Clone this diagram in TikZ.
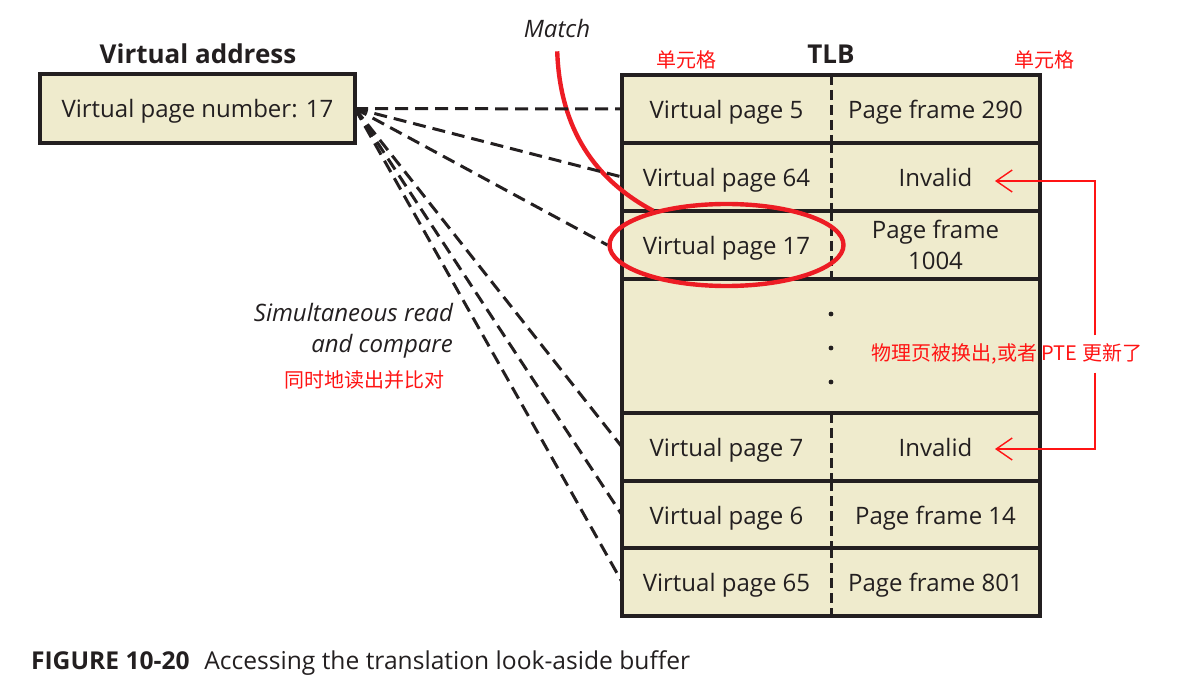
\documentclass[tikz,border=0pt]{standalone}
\usepackage{fontspec}
\setmainfont{Open Sans}
\newfontfamily\cjk{Noto Sans CJK SC}
\definecolor{cellbg}{RGB}{239,235,205}
\definecolor{edge}{RGB}{35,31,32}
\definecolor{hit}{RGB}{237,28,36}
\definecolor{note}{RGB}{255,20,20}
\usetikzlibrary{
	arrows.meta,
	positioning,
	shapes.geometric
}
\tikzset{
  % node
	cstcell/.style    ={fill=cellbg,minimum width=104.5pt,minimum height=34pt,inner sep=0pt,outer sep=0pt,align=center,text depth=0pt},
	csttitle/.style   ={font=\bfseries\fontsize{13}{15}\selectfont},
	cstemph/.style    ={font=\itshape\fontsize{12}{15.5}\selectfont,align=right},
	cstcjk/.style     ={text=note,font=\cjk\fontsize{10}{12}\selectfont},
	cstring/.style    ={ellipse,draw=hit,line width=2.2pt,minimum width=117pt,minimum height=41pt},
  % line
	cstframe/.style   ={draw=edge,line width=1.6pt},
	cstlink/.style    ={draw=edge,line width=1.5pt,dash pattern=on 6.5pt off 3.5pt}, % read and compare
	cstsplit/.style   ={draw=edge,line width=1.5pt,dash pattern=on 5pt off 2.5pt},   % column divider
	csthit/.style     ={draw=hit,line width=2.2pt},
	cstwarn/.style    ={draw=note,line width=0.7pt},
	cstwra/.style     ={-{Straight Barb[length=8pt,width=11pt]}}
}

\begin{document}
\begin{tikzpicture}[x=0.5pt,y=-0.5pt,text=edge,font=\fontsize{12}{15.5}\selectfont]
	\useasboundingbox (0,0) rectangle (1200,700);
  % virtual address
	\node[cstcell,cstframe,minimum width=157.5pt,minimum height=34.5pt] (va) at (197.5,108.5) {Virtual page number: 17};
	\node[csttitle] (vat) at (198,54) {Virtual address};
  % TLB
	\node[cstcell,minimum width=209pt,minimum height=67pt] (gap) at (831,346) {};
	\draw[cstframe] (gap.north west) rectangle (gap.south east);
	\foreach \d in {314,348,382} \fill[edge] (831,\d) circle (1.2pt);
	\foreach \i/\y/\vp/\pf in {1/109/5/Page frame 290,2/177/64/Invalid,3/245/17/{Page frame\\1004},4/447/7/Invalid,5/515/6/Page frame 14,6/582/65/Page frame 801}{
		\node[cstcell] (l\i) at (726.5,\y) {Virtual page \vp};
		\node[cstcell,right=0pt of l\i] (p\i) {\pf};
		\draw[cstframe] (l\i.north west) rectangle (p\i.south east);
		\draw[cstsplit] (l\i.north east) -- (l\i.south east);
	}
	\node[csttitle] (tlb) at (831,54) {TLB};
	\node[cstcjk] (cl) at (686,60) {单元格};
	\node[cstcjk] (cr) at (1044,60) {单元格};
  % match
	\node[cstring] (ring) at (l3) {};
	\node[cstemph] (match) at (557,29) {Match};
	\draw[csthit,shorten <=3pt] (match.south) to[out=-88,in=152] (ring.155);
  % read and compare
	\foreach \t in {l1,l2,l4,l5,l6} \draw[cstlink] (va.east) -- (\t.west);
	\draw[cstlink] (va.east) -- (ring.west);
	\node[cstemph,anchor=east] (rc) at (460,331) {Simultaneous read\\and compare};
	\node[cstcjk,anchor=east] (rcc) at (452,380) {同时地读出并比对};
  % update
	\node[cstcjk,inner sep=4pt] (upd) at (1007,354) {物理页被换出,或者 PTE 更新了};
	\coordinate (k2) at (1095,181);
	\coordinate (k4) at (1095,449);
	\coordinate (a2) at (995,181);
	\coordinate (a4) at (995,449);
	\draw[cstwarn,cstwra] (upd.north -| k2) -- (k2) -- (a2);
	\draw[cstwarn,cstwra] (upd.south -| k4) -- (k4) -- (a4);
  % caption
	\node[anchor=west,font=\fontsize{12.3}{14}\selectfont] (cap) at (24,663) {\textbf{FIGURE 10-20}\hspace{0.6em}Accessing the translation look-aside buffer};
\end{tikzpicture}
\end{document}
